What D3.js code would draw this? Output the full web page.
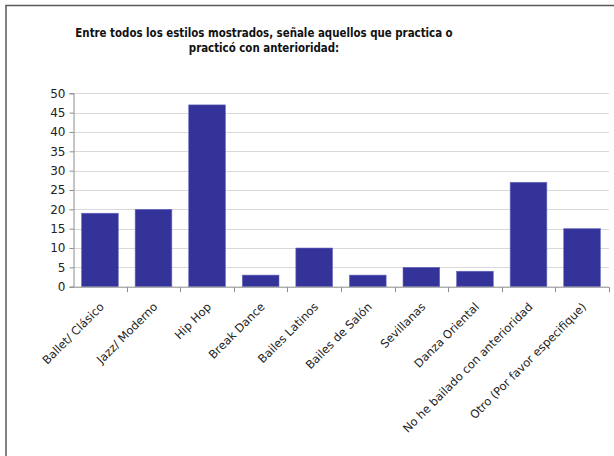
<!DOCTYPE html>
<html>
<head>
<meta charset="utf-8">
<script src="https://cdn.jsdelivr.net/npm/d3@7"></script>
<style>
  html, body { margin: 0; padding: 0; background: #fff; }
  svg { display: block; }
</style>
</head>
<body>
<svg id="chart" width="614" height="456"></svg>
<script>
// Survey answers: dance styles practised now or before
const categories = [
  "Ballet/ Clásico", "Jazz/ Moderno", "Hip Hop", "Break Dance", "Bailes Latinos",
  "Bailes de Salón", "Sevillanas", "Danza Oriental",
  "No he bailado con anterioridad", "Otro (Por favor especifique)"
];
const counts = [19, 20, 47, 3, 10, 3, 5, 4, 27, 15];
const yTicks = [0, 5, 10, 15, 20, 25, 30, 35, 40, 45, 50];
const titleLines = [
  "Entre todos los estilos mostrados, señale aquellos que practica o",
  "practicó con anterioridad:"
];

const svg = d3.select("#chart");
const font = "Tahoma, 'DejaVu Sans', sans-serif";
const titleFont = "Tahoma, 'DejaVu Sans Condensed', 'DejaVu Sans', sans-serif";

// outer frame (left and top edges visible)
svg.append("path")
  .attr("d", "M6,456 V5.5 H614")
  .attr("fill", "none").attr("stroke", "#595959").attr("stroke-width", 1.5);

const plot = { left: 73, right: 609, top: 93.3, bottom: 286.7 };

const x = d3.scaleBand().domain(categories)
  .range([plot.left, plot.right]).paddingInner(0.315).paddingOuter(0.16);
const xEdges = d3.scaleLinear().domain([0, categories.length]).range([plot.left, plot.right]);
const y = d3.scaleLinear().domain([0, 50]).range([plot.bottom, plot.top]);

// gridlines
svg.append("g").selectAll("line").data(yTicks.filter(d => d > 0)).join("line")
  .attr("x1", plot.left).attr("x2", plot.right)
  .attr("y1", d => Math.round(y(d)) + 0.5).attr("y2", d => Math.round(y(d)) + 0.5)
  .attr("stroke", "#d9d9d9").attr("stroke-width", 1);

// bars
svg.append("g").selectAll("rect").data(categories).join("rect")
  .attr("x", d => x(d))
  .attr("width", x.bandwidth())
  .attr("y", (d, i) => y(counts[i]))
  .attr("height", (d, i) => y(0) - y(counts[i]))
  .attr("fill", "#333399")
  .attr("stroke", "#6a6ac0").attr("stroke-width", 0.6);

// y axis
const yAxis = svg.append("g")
  .attr("transform", `translate(${plot.left + 0.5},0)`)
  .call(d3.axisLeft(y).tickValues(yTicks).tickSize(4).tickPadding(4));
yAxis.select(".domain").attr("stroke", "#8c8c8c");
yAxis.selectAll(".tick line").attr("stroke", "#8c8c8c");
yAxis.selectAll("text").attr("font-family", font).attr("font-size", 12).attr("fill", "#222");

// x axis with ticks on category boundaries
const xAxisG = svg.append("g").attr("transform", `translate(0,${plot.bottom + 0.5})`);
xAxisG.append("line").attr("x1", plot.left).attr("x2", plot.right)
  .attr("stroke", "#8c8c8c");
xAxisG.selectAll("line.tk").data(d3.range(1, categories.length + 1)).join("line")
  .attr("class", "tk")
  .attr("x1", d => Math.round(xEdges(d)) + 0.5).attr("x2", d => Math.round(xEdges(d)) + 0.5)
  .attr("y1", 0).attr("y2", 5).attr("stroke", "#8c8c8c");

// rotated category labels
xAxisG.selectAll("text").data(categories).join("text")
  .attr("transform", (d, i) => `translate(${xEdges(i + 0.5) + 2},17.5) rotate(-45)`)
  .attr("text-anchor", "end")
  .attr("dy", "0.35em")
  .attr("font-family", font).attr("font-size", 11.5).attr("fill", "#222")
  .text(d => d);

// title
svg.append("g").selectAll("text").data(titleLines).join("text")
  .attr("x", 264).attr("y", (d, i) => 37 + i * 15)
  .attr("text-anchor", "middle")
  .attr("font-family", titleFont).attr("font-weight", "bold").attr("font-size", 11.4)
  .attr("fill", "#111")
  .text(d => d);
</script>
</body>
</html>
